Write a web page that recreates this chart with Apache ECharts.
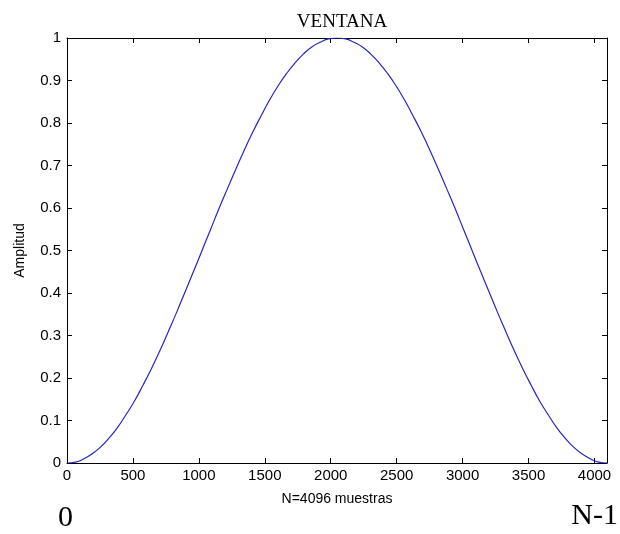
<!DOCTYPE html>
<html>
<head>
<meta charset="utf-8">
<script src="https://cdn.jsdelivr.net/npm/echarts@6/dist/echarts.min.js"></script>
<style>
  html, body { margin: 0; padding: 0; background: #ffffff; }
  #chart { width: 620px; height: 534px; }
</style>
</head>
<body>
<div id="chart"></div>
<script>
// Window samples (index n) and their amplitude
const sampleIndex = [
  0, 64, 128, 192, 256, 320, 384, 448, 512, 576, 640, 704, 768, 832, 896, 960,
  1024, 1088, 1152, 1216, 1280, 1344, 1408, 1472, 1536, 1600, 1664, 1728, 1792, 1856, 1920, 1984,
  2048, 2112, 2176, 2240, 2304, 2368, 2432, 2496, 2560, 2624, 2688, 2752, 2816, 2880, 2944, 3008,
  3072, 3136, 3200, 3264, 3328, 3392, 3456, 3520, 3584, 3648, 3712, 3776, 3840, 3904, 3968, 4032, 4095
];
const amplitude = [
  0.000, 0.002, 0.010, 0.022, 0.038, 0.059, 0.084, 0.114, 0.146, 0.183, 0.222, 0.264, 0.309, 0.355, 0.403, 0.451,
  0.500, 0.549, 0.598, 0.645, 0.691, 0.736, 0.778, 0.817, 0.854, 0.887, 0.916, 0.941, 0.962, 0.979, 0.990, 0.998,
  1.000, 0.998, 0.990, 0.979, 0.962, 0.941, 0.916, 0.887, 0.854, 0.817, 0.778, 0.736, 0.691, 0.645, 0.598, 0.549,
  0.500, 0.451, 0.403, 0.355, 0.309, 0.264, 0.222, 0.183, 0.146, 0.114, 0.084, 0.059, 0.038, 0.022, 0.010, 0.002, 0.000
];

const xTicks = { min: 0, max: 4095, interval: 500 };
const yTicks = { min: 0, max: 1, interval: 0.1 };

const chartTitle = 'VENTANA';
const xName = 'N=4096 muestras';
const yName = 'Amplitud';
const leftNote = '0';
const rightNote = 'N-1';

const points = sampleIndex.map((n, i) => [n, amplitude[i]]);

const chart = echarts.init(document.getElementById('chart'), null, { renderer: 'canvas' });

const sans = 'Liberation Sans, Arial, sans-serif';
const tickFont = { fontFamily: sans, fontSize: 15, color: '#000' };
const axisLine = { show: true, onZero: false, lineStyle: { color: '#000', width: 1 } };
const tick = { show: true, inside: true, length: 5, lineStyle: { color: '#000', width: 1 } };

chart.setOption({
  backgroundColor: '#ffffff',
  animation: false,
  title: {
    text: chartTitle,
    left: 337,
    top: 8,
    textAlign: 'center',
    textStyle: { fontFamily: 'Liberation Serif, Times New Roman, serif', fontSize: 19, fontWeight: 'normal', color: '#000' }
  },
  graphic: [
    { type: 'text', left: 58, top: 503,
      style: { text: leftNote, font: '30px "Liberation Serif", "Times New Roman", serif', fill: '#000' } },
    { type: 'text', right: 2, top: 501,
      style: { text: rightNote, font: '30px "Liberation Serif", "Times New Roman", serif', fill: '#000' } }
  ],
  grid: { left: 67, right: 13, top: 38, bottom: 71, containLabel: false },
  xAxis: [
    {
      type: 'value', position: 'bottom',
      min: xTicks.min, max: xTicks.max, interval: xTicks.interval,
      name: xName, nameLocation: 'middle', nameGap: 29,
      nameTextStyle: { fontFamily: sans, fontSize: 14, color: '#000' },
      axisLine: axisLine, axisTick: tick,
      axisLabel: Object.assign({ margin: 5, showMaxLabel: false, formatter: v => String(v) }, tickFont),
      splitLine: { show: false }
    },
    {
      type: 'value', position: 'top',
      min: xTicks.min, max: xTicks.max, interval: xTicks.interval,
      axisLine: axisLine, axisTick: tick,
      axisLabel: { show: false }, splitLine: { show: false }
    }
  ],
  yAxis: [
    {
      type: 'value', position: 'left',
      min: yTicks.min, max: yTicks.max, interval: yTicks.interval,
      name: yName, nameLocation: 'middle', nameGap: 40,
      nameTextStyle: { fontFamily: sans, fontSize: 14, color: '#000' },
      axisLine: axisLine, axisTick: tick,
      axisLabel: Object.assign({ margin: 6, formatter: v => String(Math.round(v * 10) / 10) }, tickFont),
      splitLine: { show: false }
    },
    {
      type: 'value', position: 'right',
      min: yTicks.min, max: yTicks.max, interval: yTicks.interval,
      axisLine: axisLine, axisTick: tick,
      axisLabel: { show: false }, splitLine: { show: false }
    }
  ],
  series: [
    {
      type: 'line',
      xAxisIndex: 0, yAxisIndex: 0,
      data: points,
      smooth: true,
      showSymbol: false,
      lineStyle: { color: '#2626c4', width: 1.2 }
    }
  ]
});
</script>
</body>
</html>
